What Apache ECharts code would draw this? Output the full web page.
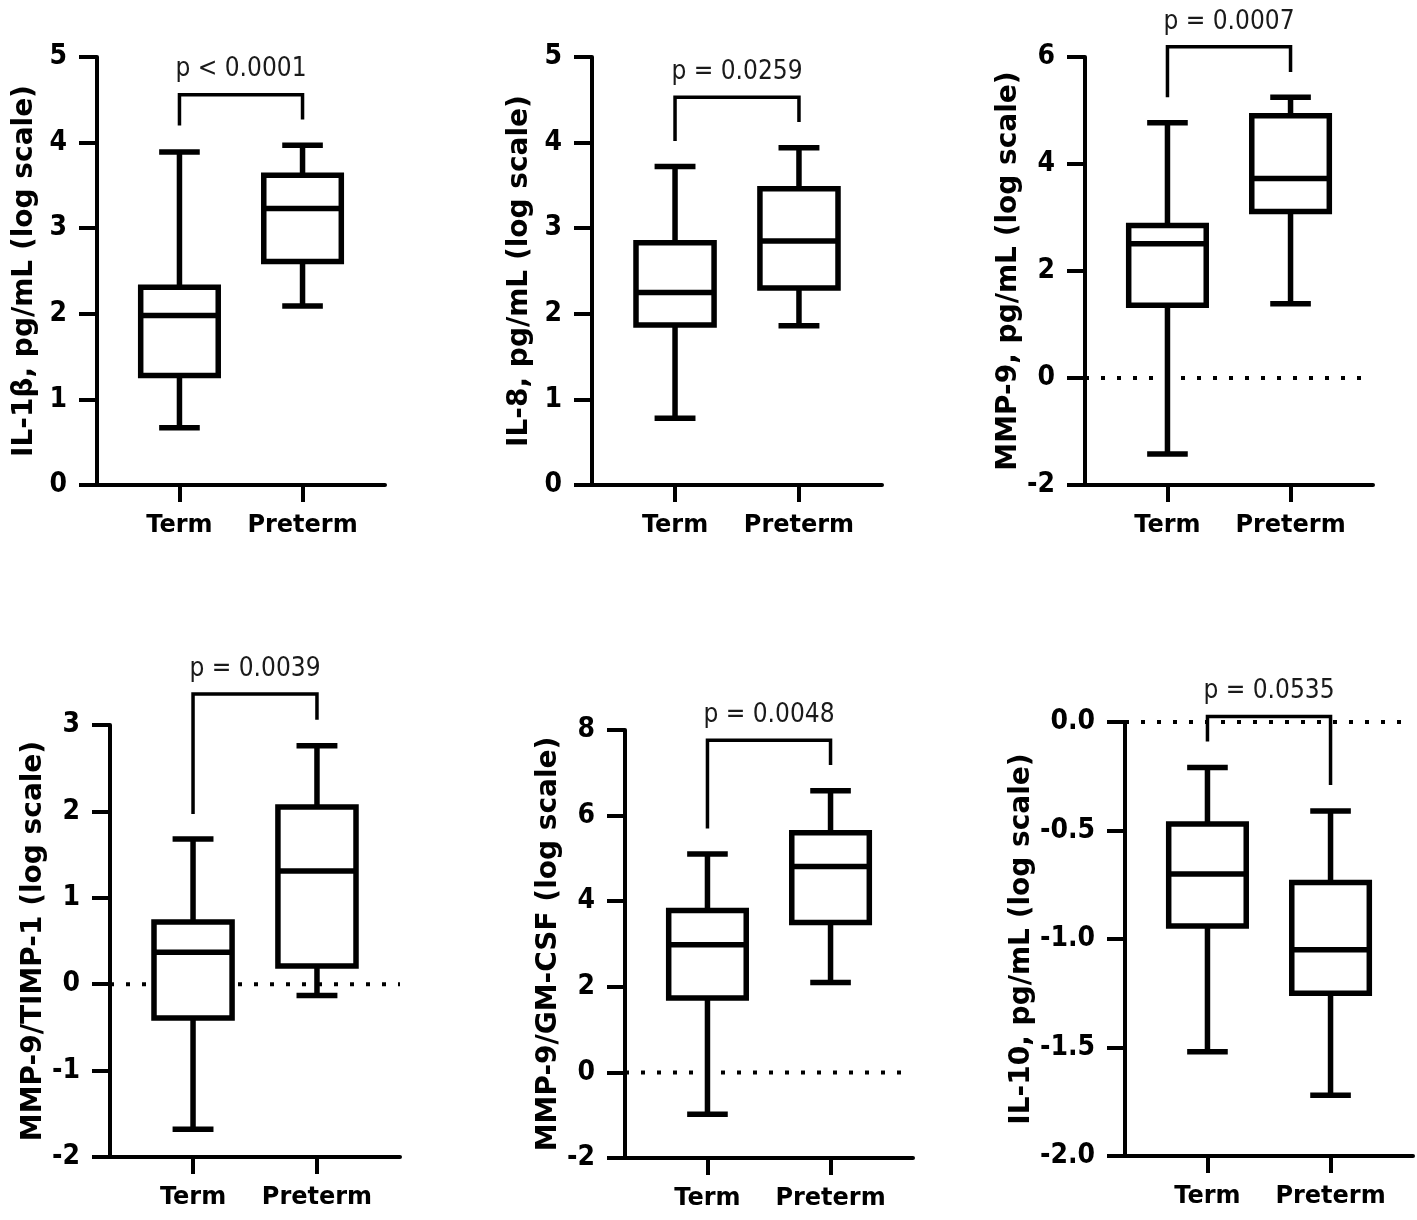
<!DOCTYPE html>
<html>
<head>
<meta charset="utf-8">
<script src="https://cdn.jsdelivr.net/npm/echarts@6/dist/echarts.min.js"></script>
<style>
  html, body { margin: 0; padding: 0; background: #fff; }
  #chart { width: 1417px; height: 1220px; }
</style>
</head>
<body>
<div id="chart"></div>
<script>
const categories = ['Term', 'Preterm'];

// [low whisker, Q1, median, Q3, high whisker]
const il1bTerm = [0.67, 1.28, 1.98, 2.31, 3.89];
const il1bPreterm = [2.09, 2.61, 3.23, 3.62, 3.97];
const il8Term = [0.78, 1.87, 2.25, 2.83, 3.72];
const il8Preterm = [1.86, 2.30, 2.85, 3.46, 3.94];
const mmp9Term = [-1.42, 1.36, 2.51, 2.85, 4.77];
const mmp9Preterm = [1.39, 3.11, 3.73, 4.90, 5.25];
const timpTerm = [-1.68, -0.39, 0.37, 0.72, 1.68];
const timpPreterm = [-0.13, 0.21, 1.31, 2.05, 2.76];
const gmcsfTerm = [-0.98, 1.74, 2.98, 3.78, 5.10];
const gmcsfPreterm = [2.10, 3.50, 4.81, 5.60, 6.58];
const il10Term = [-1.52, -0.94, -0.70, -0.47, -0.21];
const il10Preterm = [-1.72, -1.25, -1.05, -0.74, -0.41];

const yTitles = [
  'IL-1β, pg/mL (log scale)',
  'IL-8, pg/mL (log scale)',
  'MMP-9, pg/mL (log scale)',
  'MMP-9/TIMP-1 (log scale)',
  'MMP-9/GM-CSF (log scale)',
  'IL-10, pg/mL (log scale)'
];
const pLabels = ['p < 0.0001', 'p = 0.0259', 'p = 0.0007', 'p = 0.0039', 'p = 0.0048', 'p = 0.0535'];
// bracket: [top, end of Term leg, end of Preterm leg]
const brackets = [
  [4.56, 4.20, 4.27],
  [4.53, 4.02, 4.24],
  [6.19, 5.25, 5.72],
  [3.36, 1.97, 3.06],
  [7.76, 5.70, 7.18],
  [0.025, -0.09, -0.29]
];
const yMin = [0, 0, -2, -2, -2, -2];
const yMax = [5, 5, 6, 3, 8, 0];
const yStep = [1, 1, 2, 1, 2, 0.5];
const zeroLine = [false, false, true, true, true, true];

const panels = [
  [il1bTerm, il1bPreterm],
  [il8Term, il8Preterm],
  [mmp9Term, mmp9Preterm],
  [timpTerm, timpPreterm],
  [gmcsfTerm, gmcsfPreterm],
  [il10Term, il10Preterm]
];

// grid boxes in px: left, top, width, height
const layout = [
  [97, 57, 288, 428],
  [592, 57, 290, 428],
  [1085, 57, 288, 428],
  [110, 725, 290, 432],
  [625, 730, 288, 428],
  [1125, 722, 288, 434]
];

const X_MIN = -0.67;
const X_MAX = 1.67;

const chart = echarts.init(document.getElementById('chart'));

function renderBox(params, api) {
  const x = api.value(0);
  const low = api.coord([x, api.value(1)]);
  const q1 = api.coord([x, api.value(2)]);
  const med = api.coord([x, api.value(3)]);
  const q3 = api.coord([x, api.value(4)]);
  const high = api.coord([x, api.value(5)]);
  const band = api.size([1, 0])[0];
  const half = band * 0.315;
  const cap = band * 0.165;
  const cx = low[0];
  const style = { stroke: '#000', lineWidth: 5.5, fill: null };
  return {
    type: 'group',
    children: [
      { type: 'line', shape: { x1: cx, y1: high[1], x2: cx, y2: q3[1] }, style },
      { type: 'line', shape: { x1: cx, y1: q1[1], x2: cx, y2: low[1] }, style },
      { type: 'line', shape: { x1: cx - cap, y1: high[1], x2: cx + cap, y2: high[1] }, style },
      { type: 'line', shape: { x1: cx - cap, y1: low[1], x2: cx + cap, y2: low[1] }, style },
      {
        type: 'rect',
        shape: { x: cx - half, y: q3[1], width: half * 2, height: q1[1] - q3[1] },
        style: { stroke: '#000', lineWidth: 5.5, fill: '#fff' }
      },
      { type: 'line', shape: { x1: cx - half, y1: med[1], x2: cx + half, y2: med[1] }, style }
    ]
  };
}

function renderBracket(params, api) {
  const top = api.value(2);
  const a = api.coord([api.value(0), api.value(3)]);
  const b = api.coord([api.value(0), top]);
  const c = api.coord([api.value(1), top]);
  const d = api.coord([api.value(1), api.value(4)]);
  return {
    type: 'group',
    children: [
      {
        type: 'polyline',
        shape: { points: [a, b, c, d] },
        style: { stroke: '#000', lineWidth: 3.5, fill: null }
      },
      {
        type: 'text',
        x: (b[0] + c[0]) / 2,
        y: b[1] - 25,
        style: {
          text: pLabels[api.value(5)],
          fill: '#1a1a1a',
          font: '26px "DejaVu Sans Condensed", "DejaVu Sans", sans-serif',
          align: 'center',
          verticalAlign: 'middle'
        }
      }
    ]
  };
}

const grids = [];
const xAxes = [];
const yAxes = [];
const series = [];

panels.forEach(function (groups, i) {
  const box = layout[i];
  grids.push({
    left: box[0], top: box[1], width: box[2], height: box[3],
    outerBoundsMode: 'none'
  });
  xAxes.push({
    gridIndex: i,
    type: 'value',
    min: X_MIN,
    max: X_MAX,
    axisLine: { show: true, onZero: false, lineStyle: { color: '#000', width: 4 } },
    axisTick: { show: true, customValues: [0, 1], length: 17, lineStyle: { color: '#000', width: 4 } },
    axisLabel: {
      customValues: [0, 1],
      formatter: function (v) { return categories[Math.round(v)]; },
      margin: 29,
      color: '#000',
      fontFamily: 'DejaVu Sans',
      fontWeight: 'bold',
      fontSize: 24
    },
    splitLine: { show: false }
  });
  yAxes.push({
    gridIndex: i,
    type: 'value',
    min: yMin[i],
    max: yMax[i],
    interval: yStep[i],
    name: yTitles[i],
    nameLocation: 'middle',
    nameGap: 58,
    nameTextStyle: { color: '#000', fontFamily: 'DejaVu Sans', fontWeight: 'bold', fontSize: 28 },
    axisLine: { show: true, onZero: false, lineStyle: { color: '#000', width: 4 } },
    axisTick: { show: true, length: 18, lineStyle: { color: '#000', width: 4 } },
    axisLabel: {
      margin: 30,
      color: '#000',
      fontFamily: '"Liberation Sans Narrow", "DejaVu Sans Condensed", sans-serif',
      fontWeight: 'bold',
      fontSize: 28,
      formatter: yStep[i] < 1 ? function (v) { return v.toFixed(1); } : null
    },
    splitLine: { show: false }
  });

  if (zeroLine[i]) {
    series.push({
      type: 'line',
      xAxisIndex: i,
      yAxisIndex: i,
      data: [[X_MIN, 0], [X_MAX, 0]],
      symbol: 'none',
      silent: true,
      z: 1,
      lineStyle: { color: '#000', width: 4, type: [4, 12] }
    });
  }

  series.push({
    type: 'custom',
    xAxisIndex: i,
    yAxisIndex: i,
    z: 3,
    clip: false,
    silent: true,
    renderItem: renderBox,
    data: groups.map(function (g, k) { return [k].concat(g); })
  });

  const br = brackets[i];
  series.push({
    type: 'custom',
    xAxisIndex: i,
    yAxisIndex: i,
    z: 2,
    clip: false,
    silent: true,
    renderItem: renderBracket,
    data: [[0, 1, br[0], br[1], br[2], i]]
  });
});

chart.setOption({
  animation: false,
  backgroundColor: '#fff',
  grid: grids,
  xAxis: xAxes,
  yAxis: yAxes,
  series: series
});
</script>
</body>
</html>
